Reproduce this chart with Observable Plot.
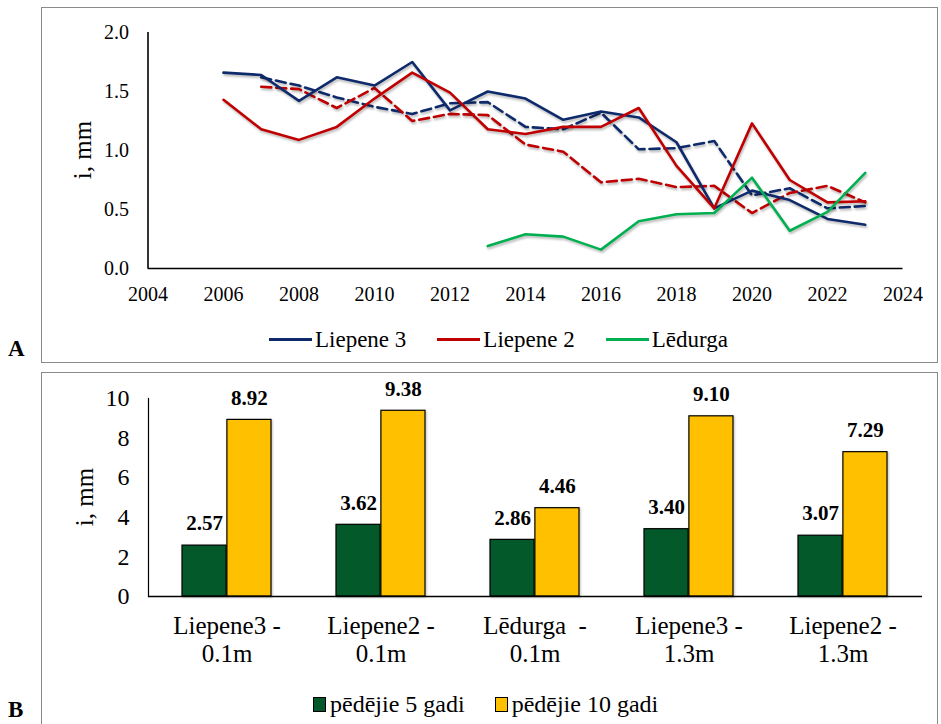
<!DOCTYPE html>
<html>
<head>
<meta charset="utf-8">
<script src="https://cdn.jsdelivr.net/npm/d3@7"></script>
<script src="https://cdn.jsdelivr.net/npm/@observablehq/plot@0.6"></script>
<style>
  body { margin: 0; background: #fff; }
  #wrap { position: relative; width: 941px; height: 724px; overflow: hidden; background: #fff;
          font-family: "Liberation Serif", serif; color: #000; }
  #wrap svg, #wrap svg text, #wrap svg tspan, .legend, .legend span { font-family: "Liberation Serif", serif !important; }
  .frame { position: absolute; border: 1.5px solid #8a8a8a; box-sizing: border-box; }
  .abs { position: absolute; }
  .panelLetter { position: absolute; font-weight: bold; font-size: 23px; line-height: 1; }
  .ylab { position: absolute; font-size: 25px; transform: translate(-50%, -50%) rotate(-90deg); white-space: nowrap; line-height: 1; }
  .legend { position: absolute; display: flex; align-items: center; white-space: nowrap; line-height: 1; }
  .legend .item { display: flex; align-items: center; }
  .swLine { display: inline-block; width: 43px; height: 3px; }
  .swBox { display: inline-block; width: 11px; height: 13px; border: 1.5px solid #000; }
</style>
</head>
<body>
<div id="wrap">
  <div class="frame" style="left:41px; top:7px; width:897px; height:356px;"></div>
  <div class="frame" style="left:41px; top:372px; width:897px; height:370px;"></div>
  <div id="plotA" class="abs" style="left:0; top:0;"></div>
  <div id="plotB" class="abs" style="left:0; top:372px;"></div>
  <div class="ylab" style="left:82px; top:150px;">i, mm</div>
  <div class="ylab" style="left:84px; top:497px;">i, mm</div>
  <div class="panelLetter" style="left:8px; top:337px;">A</div>
  <div class="panelLetter" style="left:8px; top:698px;">B</div>
  <div id="legendA" class="legend" style="left:269px; top:327px; height:24px; font-size:23px;"></div>
  <div id="legendB" class="legend" style="left:313px; top:692px; height:24px; font-size:24px;"></div>
</div>
<script>
// ---------- Panel A data ----------
const yearsFrom2006 = [2006,2007,2008,2009,2010,2011,2012,2013,2014,2015,2016,2017,2018,2019,2020,2021,2022,2023];
const yearsFrom2007 = [2007,2008,2009,2010,2011,2012,2013,2014,2015,2016,2017,2018,2019,2020,2021,2022,2023];
const yearsFrom2013 = [2013,2014,2015,2016,2017,2018,2019,2020,2021,2022,2023];

const liepene3_01 = [1.66,1.64,1.42,1.62,1.55,1.75,1.34,1.50,1.44,1.26,1.33,1.28,1.07,0.51,0.66,0.58,0.42,0.37];
const liepene2_01 = [1.43,1.18,1.09,1.20,1.44,1.66,1.49,1.18,1.14,1.20,1.20,1.36,0.87,0.51,1.23,0.75,0.56,0.57];
const liepene3_13 = [1.62,1.55,1.45,1.37,1.31,1.40,1.41,1.20,1.18,1.32,1.01,1.02,1.08,0.62,0.68,0.51,0.53];
const liepene2_13 = [1.54,1.52,1.36,1.53,1.25,1.31,1.30,1.05,0.99,0.73,0.76,0.69,0.70,0.47,0.64,0.70,0.56];
const ledurga_01  = [0.19,0.29,0.27,0.16,0.40,0.46,0.47,0.77,0.32,0.48,0.81];

const sites = ["Liepene 3", "Liepene 2", "Lēdurga"];
const siteColors = ["#0E2A6B", "#C00000", "#00B050"];
const xTicksA = [2004,2006,2008,2010,2012,2014,2016,2018,2020,2022,2024];
const yTicksA = [0, 0.5, 1.0, 1.5, 2.0];

// ---------- Panel B data ----------
const categories = ["Liepene3 -\n0.1m", "Liepene2 -\n0.1m", "Lēdurga\u00a0 -\n0.1m", "Liepene3 -\n1.3m", "Liepene2 -\n1.3m"];
const last5  = [2.57, 3.62, 2.86, 3.40, 3.07];
const last10 = [8.92, 9.38, 4.46, 9.10, 7.29];
const periods = ["pēdējie 5 gadi", "pēdējie 10 gadi"];
const periodColors = ["#04592B", "#FFC000"];
const yTicksB = [0, 2, 4, 6, 8, 10];

// ---------- build tables ----------
const toRows = (site, years, vals) => years.map((year, i) => ({site, year, value: vals[i]}));
const solidRows = [
  ...toRows("Liepene 3", yearsFrom2006, liepene3_01),
  ...toRows("Liepene 2", yearsFrom2006, liepene2_01),
  ...toRows("Lēdurga", yearsFrom2013, ledurga_01)
];
const dashedRows = [
  ...toRows("Liepene 3", yearsFrom2007, liepene3_13),
  ...toRows("Liepene 2", yearsFrom2007, liepene2_13)
];

const FONT = "Liberation Serif, serif";
const baseStyle = {fontFamily: FONT, color: "#000", background: "transparent", overflow: "visible"};

const plotA = Plot.plot({
  width: 941, height: 320,
  marginLeft: 147.5, marginRight: 38.5, marginTop: 32, marginBottom: 52,
  x: {domain: [2004, 2024]},
  y: {domain: [0, 2]},
  color: {domain: sites, range: siteColors},
  style: {...baseStyle, fontSize: "20px"},
  marks: [
    Plot.axisX(xTicksA, {tickSize: 0, tickPadding: 18, tickFormat: d => String(d), fontSize: 20, fontFamily: FONT, label: null}),
    Plot.axisY(yTicksA, {tickSize: 0, tickPadding: 19, tickFormat: d => d.toFixed(1), fontSize: 20, fontFamily: FONT, label: null}),
    Plot.line(dashedRows, {x: "year", y: "value", z: "site", stroke: "site", strokeWidth: 2.6, strokeDasharray: "10,5", strokeLinejoin: "round"}),
    Plot.line(solidRows, {x: "year", y: "value", z: "site", stroke: "site", strokeWidth: 2.6, strokeLinejoin: "round"}),
    Plot.ruleY([0], {stroke: "#000", strokeWidth: 1.6}),
    Plot.ruleX([2004], {stroke: "#000", strokeWidth: 1.6})
  ]
});
d3.select(plotA).selectAll("g[aria-label=line]").style("filter", "drop-shadow(1.5px 2px 1.2px rgba(0,0,0,0.28))");
document.getElementById("plotA").appendChild(plotA);

// Panel B
const xOpts = {type: "band", domain: categories, paddingInner: 0.42, paddingOuter: 0.21};
const bw = Plot.scale({x: {...xOpts, range: [148, 922]}}).bandwidth;
const rows5 = categories.map((cat, i) => ({cat, period: periods[0], value: last5[i]}));
const rows10 = categories.map((cat, i) => ({cat, period: periods[1], value: last10[i]}));

const plotB = Plot.plot({
  width: 941, height: 300,
  marginLeft: 148, marginRight: 19, marginTop: 26, marginBottom: 76,
  x: xOpts,
  y: {domain: [0, 10]},
  color: {domain: periods, range: periodColors},
  style: {...baseStyle, fontSize: "24px"},
  marks: [
    Plot.axisX({tickSize: 0, tickPadding: 17, fontSize: 25, lineHeight: 1.13, fontFamily: FONT, label: null}),
    Plot.axisY(yTicksB, {tickSize: 0, tickPadding: 19, fontSize: 24, fontFamily: FONT, label: null}),
    Plot.barY(rows5, {x: "cat", y: "value", fill: "period", stroke: "#000", strokeWidth: 1.2, insetRight: bw / 2}),
    Plot.barY(rows10, {x: "cat", y: "value", fill: "period", stroke: "#000", strokeWidth: 1.2, insetLeft: bw / 2}),
    Plot.text(rows5, {x: "cat", y: "value", text: d => d.value.toFixed(2), dx: -bw / 4, dy: -22, fontWeight: "bold", fontSize: 21, fontFamily: FONT}),
    Plot.text(rows10, {x: "cat", y: "value", text: d => d.value.toFixed(2), dx: bw / 4, dy: -22, fontWeight: "bold", fontSize: 21, fontFamily: FONT}),
    Plot.ruleY([0], {stroke: "#000", strokeWidth: 1.6}),
    Plot.frame({anchor: "left", stroke: "#000", strokeWidth: 1.2})
  ]
});
d3.select(plotB).selectAll("g[aria-label=bar]").style("filter", "drop-shadow(1px 1px 1px rgba(0,0,0,0.25))");
document.getElementById("plotB").appendChild(plotB);

// ---------- legends ----------
const legA = d3.select("#legendA");
sites.forEach((s, i) => {
  const it = legA.append("div").attr("class", "item").style("margin-right", i < sites.length - 1 ? "31px" : "0");
  it.append("span").attr("class", "swLine").style("background", siteColors[i]);
  it.append("span").style("margin-left", "3px").text(s);
});
const legB = d3.select("#legendB");
periods.forEach((p, i) => {
  const it = legB.append("div").attr("class", "item").style("margin-right", i < periods.length - 1 ? "30px" : "0");
  it.append("span").attr("class", "swBox").style("background", periodColors[i]);
  it.append("span").style("margin-left", "4px").text(p);
});
</script>
</body>
</html>
